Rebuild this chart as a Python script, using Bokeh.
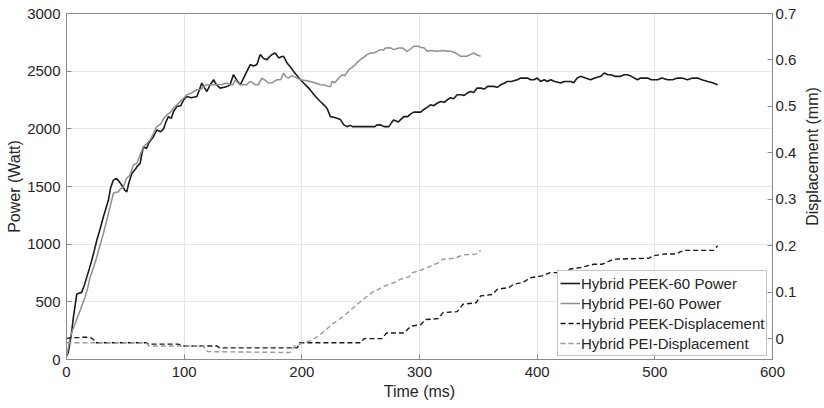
import math
from bokeh.plotting import figure
from bokeh.layouts import row
from bokeh.models import Range1d, LinearAxis, FixedTicker, Legend, LegendItem, Label
from bokeh.embed import file_html
from bokeh.resources import INLINE

# ---- data ----
peek_power_t = [0, 1.5, 3, 4.4, 5.8, 7.5, 8.7, 12.9, 15, 17.2, 19.5, 21.4, 23.5, 25.7, 28.5, 31.3, 33.5, 35.6,
                37.5, 39.8, 42.5, 45, 47, 49.5, 51.2, 53, 55.5, 58.5, 60.5, 62.6, 64, 65.4, 68, 70, 73.9, 76.8,
                80, 82.5, 84.5, 86.6, 89, 91, 93.8, 97, 99.5, 102.3, 106, 110.8, 113, 115, 117, 119.3, 122, 125,
                127.5, 130.6, 134, 137, 139, 141.9, 144.8, 147.7, 150.5, 153.4, 156.2, 159, 161.8, 164.7, 167.5,
                170.4, 172.5, 174.6, 177.4, 180.3, 182.5, 184.5, 187.4, 190, 193, 196, 198.7, 201.5, 204.4, 207,
                210, 213, 215.7, 218.5, 221.4, 224.3, 227, 230, 232.8, 235.7, 238.5, 241, 243, 262, 264, 267, 270,
                274, 276, 278, 282, 286.6, 290, 292.5, 295.2, 301, 304, 307, 309.4, 312, 315, 318, 321, 323.6,
                326.4, 329, 332, 335, 338, 340.6, 343.4, 346, 349, 352, 355, 358, 363, 366, 369, 372, 374.6, 378,
                381, 383.2, 386, 391.7, 394.5, 397.3, 400, 403, 406, 408.7, 411.5, 415, 420, 423, 428.5, 431, 434,
                437, 441, 445.4, 449, 454, 457, 460, 462.6, 466, 471, 474, 476.7, 480, 485.2, 488, 493.8, 497,
                502.3, 506, 510.8, 515, 519.3, 523, 527.8, 532, 536.3, 540, 544.9, 549, 553.4]
peek_power_w = [30, 60, 150, 240, 364, 480, 568, 582, 640, 712, 790, 858, 940, 1032, 1130, 1235, 1310, 1380,
                1490, 1555, 1570, 1540, 1511, 1470, 1453, 1530, 1613, 1650, 1680, 1700, 1780, 1845, 1830, 1880,
                1932, 1990, 1975, 2000, 2060, 2106, 2090, 2150, 2193, 2200, 2250, 2280, 2270, 2280, 2340, 2397,
                2360, 2324, 2380, 2426, 2380, 2353, 2360, 2370, 2382, 2470, 2420, 2382, 2440, 2500, 2557, 2545,
                2557, 2644, 2610, 2600, 2625, 2644, 2658, 2615, 2625, 2629, 2571, 2540, 2498, 2460, 2426, 2397,
                2368, 2340, 2300, 2265, 2237, 2210, 2179, 2106, 2100, 2092, 2080, 2034, 2019, 2030, 2019, 2019,
                2034, 2034, 2019, 2019, 2050, 2077, 2060, 2106, 2106, 2130, 2145, 2145, 2170, 2190, 2208, 2200,
                2222, 2237, 2230, 2252, 2270, 2260, 2295, 2295, 2290, 2310, 2324, 2315, 2353, 2353, 2345, 2368,
                2368, 2360, 2382, 2395, 2411, 2411, 2420, 2426, 2440, 2440, 2426, 2426, 2440, 2411, 2426, 2411,
                2426, 2410, 2397, 2411, 2411, 2400, 2440, 2455, 2440, 2426, 2440, 2455, 2484, 2469, 2469, 2455,
                2455, 2469, 2469, 2455, 2426, 2440, 2440, 2426, 2426, 2440, 2426, 2426, 2440, 2440, 2426, 2440,
                2440, 2425, 2411, 2400, 2382]

pei_power_t = [0, 1.5, 3, 5, 7.2, 9.5, 11.5, 13.5, 15.7, 18, 20, 23, 25.7, 28.5, 31.3, 34, 37, 39.8, 42, 44,
               46, 48.3, 51, 54, 56.9, 59.7, 62, 65.4, 68, 71, 74, 76.8, 80, 82.5, 85.3, 88, 91, 93.8, 97, 100,
               102.3, 106, 110.8, 114, 117, 119.3, 127.8, 132, 136.3, 139, 141.5, 143.4, 145.5, 147.7, 153, 156,
               158, 160.4, 163, 166, 169, 171.7, 175, 178.9, 182, 184.5, 186.5, 188.8, 191, 193, 196, 198.7, 203,
               207.2, 211, 215.7, 219, 222.8, 224.5, 225.7, 228, 231.4, 234.2, 236.5, 239.9, 242.5, 245.5, 247.5,
               249.8, 252.5, 255.5, 258.3, 261.2, 264, 266.8, 269, 271, 275.3, 278.2, 282.4, 285.5, 289.5, 292,
               295.2, 299, 302.3, 304, 306.5, 310, 315, 320, 323.5, 327, 330.6, 335, 340, 343.3, 346, 349, 352]
pei_power_w = [20, 100, 190, 250, 307, 370, 422, 480, 538, 620, 712, 800, 887, 990, 1090, 1200, 1322, 1439, 1450,
               1453, 1480, 1497, 1570, 1600, 1686, 1700, 1760, 1845, 1870, 1903, 1960, 2019, 2040, 2090, 2121,
               2140, 2180, 2208, 2240, 2270, 2295, 2310, 2339, 2340, 2370, 2382, 2382, 2385, 2397, 2382, 2382,
               2426, 2400, 2382, 2382, 2411, 2400, 2382, 2382, 2440, 2420, 2397, 2400, 2426, 2426, 2484, 2450,
               2440, 2460, 2455, 2440, 2426, 2420, 2411, 2400, 2382, 2380, 2368, 2368, 2411, 2400, 2440, 2469,
               2460, 2513, 2530, 2557, 2580, 2600, 2620, 2644, 2658, 2658, 2672, 2687, 2680, 2701, 2702, 2687,
               2701, 2701, 2672, 2690, 2716, 2716, 2702, 2702, 2672, 2680, 2672, 2680, 2672, 2672, 2658, 2629,
               2629, 2643, 2658, 2640, 2629]

peek_disp_t = [0, 3, 10, 12, 20, 23, 25, 37, 68, 70, 95, 100, 128, 130, 196, 198, 250, 253, 268, 272, 287, 290,
               293, 301, 305, 316, 320, 332, 337, 348, 352, 362, 366, 376, 380, 386, 390, 394, 404, 411, 423, 428,
               437, 448, 455, 465, 495, 498, 508, 518, 521, 525, 550, 553.4]
peek_disp_mm = [0.0, 0.002, 0.002, 0.003, 0.003, -0.002, -0.009, -0.009, -0.009, -0.012, -0.012, -0.016, -0.016,
                -0.02, -0.02, -0.009, -0.009, 0.0, 0.0, 0.012, 0.012, 0.02, 0.027, 0.03, 0.041, 0.043, 0.056,
                0.058, 0.074, 0.077, 0.092, 0.095, 0.106, 0.11, 0.117, 0.12, 0.124, 0.131, 0.135, 0.142, 0.142,
                0.15, 0.153, 0.16, 0.16, 0.171, 0.173, 0.178, 0.182, 0.182, 0.186, 0.19, 0.19, 0.2]

pei_disp_t = [0, 68, 70, 116, 120, 190, 194, 200, 207, 212, 215.7, 221, 225.7, 231, 237, 241, 245.5, 250, 254,
              260, 265, 270, 278, 284, 291, 294, 300, 306.6, 315, 320, 330, 337, 348, 352]
pei_disp_mm = [-0.009, -0.009, -0.016, -0.016, -0.028, -0.03, -0.016, -0.01, -0.005, 0.002, 0.009, 0.02, 0.031,
               0.04, 0.052, 0.06, 0.07, 0.08, 0.088, 0.1, 0.106, 0.113, 0.12, 0.128, 0.133, 0.142, 0.146, 0.153,
               0.162, 0.171, 0.173, 0.18, 0.182, 0.19]

series_labels = ["Hybrid PEEK-60 Power", "Hybrid PEI-60 Power",
                 "Hybrid PEEK-Displacement", "Hybrid PEI-Displacement"]
x_ticks = [0, 100, 200, 300, 400, 500, 600]
power_ticks = [0, 500, 1000, 1500, 2000, 2500, 3000]
disp_ticks = [0, 0.1, 0.2, 0.3, 0.4, 0.5, 0.6, 0.7]
right_title = "Displacement (mm)"

FONT = "Liberation Sans"
TXT = "#262626"
AX = "#8a8a8a"

p = figure(width=800, height=408, output_backend="svg", toolbar_location=None,
           x_range=Range1d(0, 600), y_range=Range1d(0, 3000))
p.min_border_left = 66
p.min_border_right = 28
p.min_border_top = 13
p.min_border_bottom = 49
p.background_fill_color = "white"
p.border_fill_color = "white"
p.outline_line_color = AX
p.outline_line_width = 1

p.extra_y_ranges = {"disp": Range1d(-0.045, 0.7)}

for g in (p.xgrid, p.ygrid):
    g.grid_line_color = "#e6e6e6"
    g.grid_line_width = 1

def style_axis(ax):
    ax.axis_line_color = AX
    ax.major_tick_line_color = AX
    ax.major_tick_in = 5
    ax.major_tick_out = 0
    ax.minor_tick_line_color = None
    ax.major_label_text_font = FONT
    ax.major_label_text_font_size = "15px"
    ax.major_label_text_color = TXT
    ax.axis_label_text_font = FONT
    ax.axis_label_text_font_size = "16px"
    ax.axis_label_text_color = TXT
    ax.axis_label_text_font_style = "normal"

p.xaxis.ticker = FixedTicker(ticks=x_ticks)
p.yaxis.ticker = FixedTicker(ticks=power_ticks)
p.xaxis.axis_label = "Time (ms)"
p.yaxis.axis_label = "Power (Watt)"
style_axis(p.xaxis[0])
style_axis(p.yaxis[0])
p.xaxis.major_label_standoff = 7
p.xaxis.axis_label_standoff = 3
p.yaxis.major_label_standoff = 6
p.yaxis.axis_label_standoff = 1

rax = LinearAxis(y_range_name="disp", ticker=FixedTicker(ticks=disp_ticks))
style_axis(rax)
rax.major_label_standoff = 3
rax.major_label_overrides = {0: "0"}
p.add_layout(rax, "right")

r1 = p.line(peek_power_t, peek_power_w, line_color="#1a1a1a", line_width=1.6)
r2 = p.line(pei_power_t, pei_power_w, line_color="#8f8f8f", line_width=1.5)
r3 = p.line(peek_disp_t, peek_disp_mm, y_range_name="disp", line_color="#1a1a1a",
            line_width=1.4, line_dash="5 3")
r4 = p.line(pei_disp_t, pei_disp_mm, y_range_name="disp", line_color="#999999",
            line_width=1.4, line_dash="5 3")

legend = Legend(items=[LegendItem(label=series_labels[0], renderers=[r1]),
                       LegendItem(label=series_labels[1], renderers=[r2]),
                       LegendItem(label=series_labels[2], renderers=[r3]),
                       LegendItem(label=series_labels[3], renderers=[r4])],
                location=(491, 3))
legend.label_text_font = FONT
legend.label_text_font_size = "15px"
legend.label_text_color = TXT
legend.border_line_color = AX
legend.border_line_width = 1
legend.background_fill_color = "white"
legend.background_fill_alpha = 1
legend.padding = 2
legend.spacing = 0
legend.margin = 0
legend.label_height = 20
legend.glyph_height = 20
legend.glyph_width = 20
legend.label_standoff = 1
p.add_layout(legend)

# narrow strip on the right that carries the right-axis title (reads bottom to top)
p2 = figure(width=24, height=408, output_backend="svg", toolbar_location=None,
            x_range=Range1d(0, 24), y_range=Range1d(0, 408), min_border=0)
p2.xaxis.visible = False
p2.yaxis.visible = False
p2.xgrid.visible = False
p2.ygrid.visible = False
p2.outline_line_color = None
p2.background_fill_color = "white"
p2.border_fill_color = "white"
p2.add_layout(Label(x=12, y=203, x_units="screen", y_units="screen", text=right_title,
                    angle=math.pi / 2, text_align="center", text_baseline="middle",
                    text_font=FONT, text_font_size="16px", text_color=TXT))

open("out.html", "w").write(file_html(row(p, p2, spacing=0), INLINE))
